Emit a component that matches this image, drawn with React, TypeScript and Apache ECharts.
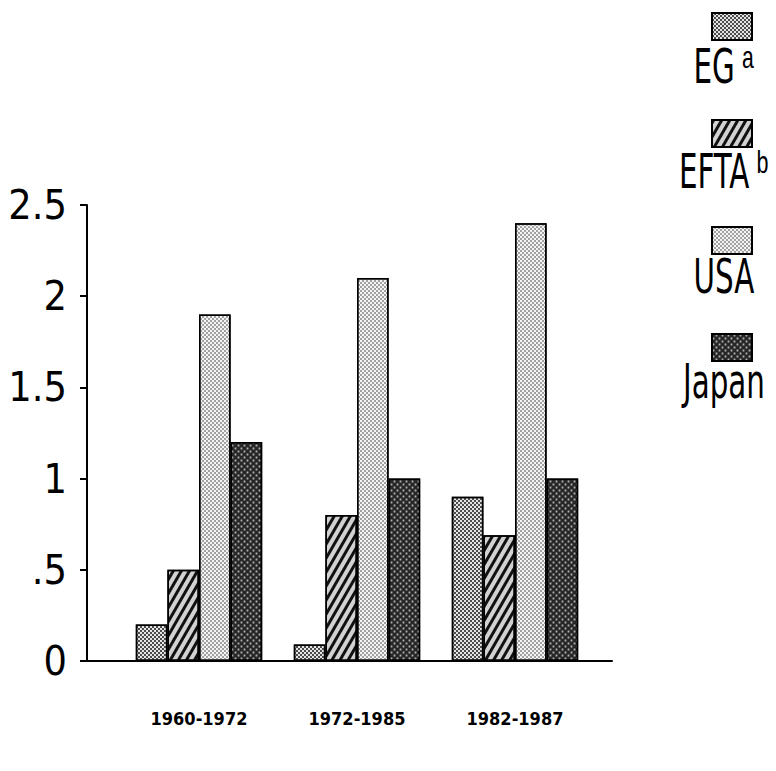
import React, { useEffect, useRef } from 'react';
import * as echarts from 'echarts';

const categories = ['1960-1972', '1972-1985', '1982-1987'];
const seriesNames = ['EG', 'EFTA', 'USA', 'Japan'];
const seriesNotes = ['a', 'b', '', ''];
const egValues = [0.2, 0.09, 0.9];
const eftaValues = [0.5, 0.8, 0.69];
const usaValues = [1.9, 2.1, 2.4];
const japanValues = [1.2, 1.0, 1.0];
const yTickValues = [0, 0.5, 1, 1.5, 2, 2.5];
const yTickLabels = ['0', '.5', '1', '1.5', '2', '2.5'];

const seriesValues = [egValues, eftaValues, usaValues, japanValues];

const baseColors = ['#e4e4e4', '#d2d2d2', '#f4f4f4', '#262626'];
const decals: any[] = [
  { symbol: 'rect', symbolSize: 0.9, color: '#3c3c3c', dashArrayX: [[2, 2], [0, 2, 2, 0]], dashArrayY: [2, 0], rotation: 0 },
  { symbol: 'rect', symbolSize: 1, color: '#111111', dashArrayX: [1, 0], dashArrayY: [3, 4], rotation: -Math.PI / 3 },
  { symbol: 'rect', symbolSize: 0.8, color: '#6a6a6a', dashArrayX: [[2, 2], [0, 2, 2, 0]], dashArrayY: [2, 0], rotation: 0 },
  { symbol: 'rect', symbolSize: 0.6, color: '#b0b0b0', dashArrayX: [[3, 3], [0, 3, 3, 0]], dashArrayY: [3, 0], rotation: 0 },
];

const NARROW = "'Liberation Sans Narrow', 'DejaVu Sans Condensed', 'Liberation Sans', sans-serif";

export default function App() {
  const ref = useRef<HTMLDivElement>(null);
  useEffect(() => {
    if (!ref.current) return;
    const chart = echarts.init(ref.current, null, { renderer: 'svg' });
    const legendLeft = 706;
    const legendTop = 7;
    const itemH = 27;
    const itemGap = 78;
    const option: any = {
      animation: false,
      backgroundColor: '#ffffff',
      aria: { enabled: true, decal: { show: true } },
      grid: [
        { left: 87, top: 205, width: 525, height: 456 },
        { left: 120, top: 205, width: 474, height: 456 },
      ],
      xAxis: [
        {
          gridIndex: 0, type: 'value', min: 0, max: 1,
          axisLine: { show: true, lineStyle: { color: '#000', width: 2 } },
          axisTick: { show: false }, axisLabel: { show: false }, splitLine: { show: false },
        },
        {
          gridIndex: 1, type: 'category', data: categories,
          axisLine: { show: false }, axisTick: { show: false }, splitLine: { show: false },
          axisLabel: { interval: 0, margin: 48, fontSize: 18, fontWeight: 'bold', color: '#000', fontFamily: NARROW },
        },
      ],
      yAxis: [
        {
          gridIndex: 0, type: 'value', min: 0, max: 2.5, interval: 0.5,
          axisLine: { show: true, lineStyle: { color: '#000', width: 2 } },
          axisTick: { show: true, length: 7, lineStyle: { color: '#000', width: 2 } },
          splitLine: { show: false },
          axisLabel: {
            margin: 20, fontSize: 41, color: '#000', fontFamily: NARROW,
            formatter: (v: number) => {
              const i = yTickValues.findIndex((t) => Math.abs(t - v) < 1e-9);
              return i >= 0 ? yTickLabels[i] : '';
            },
          },
        },
        { gridIndex: 1, type: 'value', min: 0, max: 2.5, show: false },
      ],
      legend: {
        data: seriesNames,
        orient: 'vertical',
        left: legendLeft, top: legendTop,
        itemWidth: 40, itemHeight: itemH, itemGap,
        icon: 'rect',
        selectedMode: false,
        formatter: () => '',
        textStyle: { fontSize: 1 },
      },
      graphic: seriesNames.map((name, i) => ({
        type: 'text',
        x: 724,
        y: legendTop + i * (itemH + itemGap) + 60,
        scaleX: 0.68,
        style: {
          text: seriesNotes[i] ? `{n|${name}}{s|${seriesNotes[i]}}` : `{n|${name}}`,
          align: 'center',
          verticalAlign: 'middle',
          rich: {
            n: { fontSize: 48, fontFamily: NARROW, fill: '#000', color: '#000' },
            s: { fontSize: 32, fontFamily: "'Liberation Mono', 'DejaVu Sans Mono', monospace", fill: '#000', color: '#000', verticalAlign: 'top', padding: [0, 0, 14, 10] },
          },
        },
      })),
      series: seriesNames.map((name, i) => ({
        type: 'bar',
        name,
        xAxisIndex: 1,
        yAxisIndex: 1,
        data: seriesValues[i],
        barGap: '0%',
        barCategoryGap: '20%',
        itemStyle: { color: baseColors[i], borderColor: '#000', borderWidth: 1.5, decal: decals[i] },
      })),
    };
    chart.setOption(option);
    return () => chart.dispose();
  }, []);
  return <div ref={ref} style={{ position: 'absolute', left: 0, top: 0, width: 776, height: 771 }} />;
}
